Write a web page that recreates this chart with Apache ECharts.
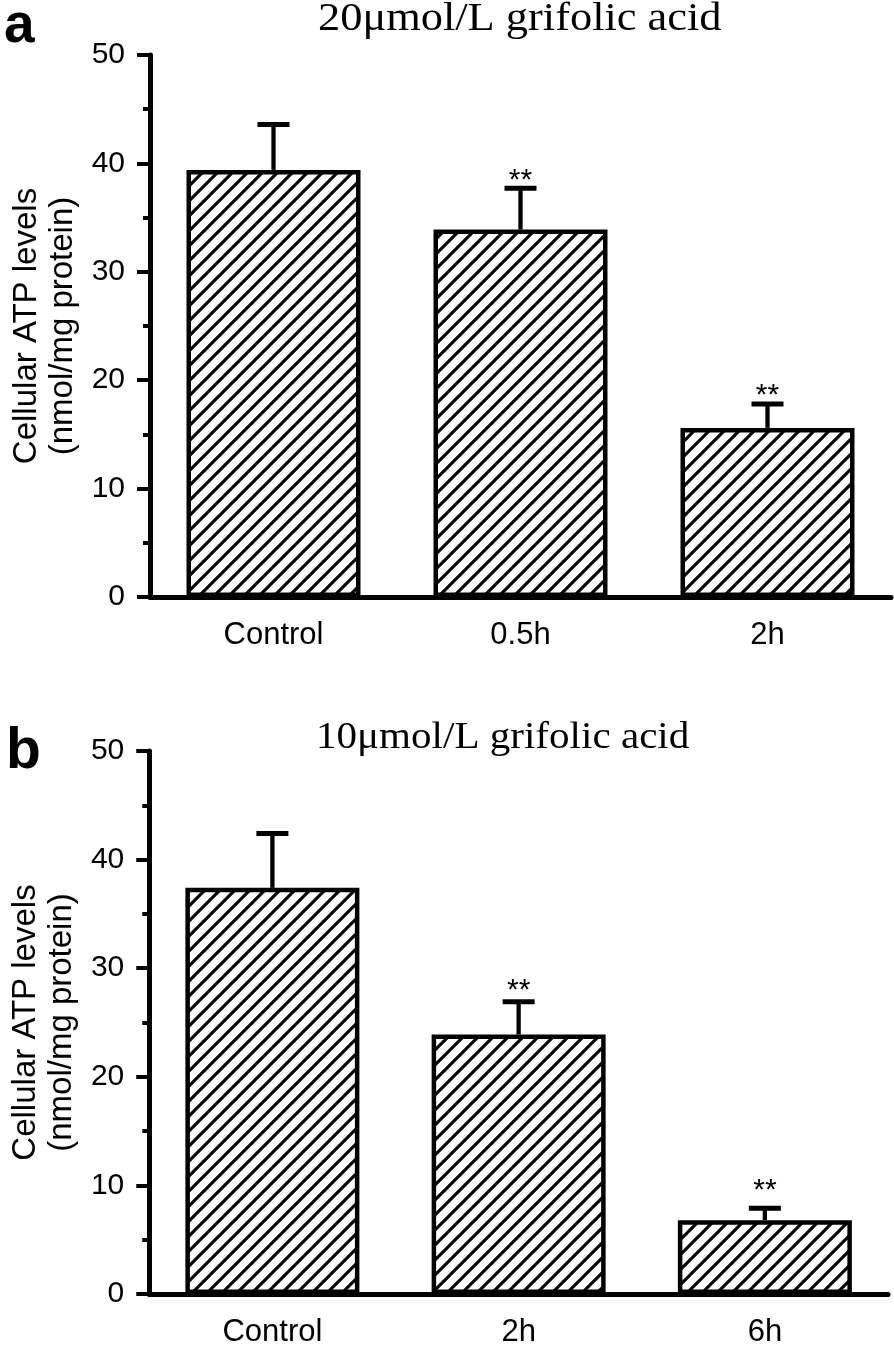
<!DOCTYPE html>
<html>
<head>
<meta charset="utf-8">
<script src="https://cdn.jsdelivr.net/npm/echarts@6/dist/echarts.min.js"></script>
<style>
html,body{margin:0;padding:0;background:#fff;}
#chart{width:894px;height:1353px;}
</style>
</head>
<body>
<div id="chart"></div>
<script>
// ---- data ----
const catsA = ['Control', '0.5h', '2h'];
const meanA = [39.4, 33.9, 15.6];
const errA  = [4.2, 3.8, 2.2];
const sigA  = ['', '**', '**'];

const catsB = ['Control', '2h', '6h'];
const meanB = [37.4, 23.9, 6.8];
const errB  = [5.0, 3.0, 1.1];
const sigB  = ['', '**', '**'];

const titleA = '20\u03bcmol/L grifolic acid';
const titleB = '10\u03bcmol/L grifolic acid';
const yName = 'Cellular ATP levels\n(nmol/mg protein)';
const yMin = 0, yMax = 50, yStep = 10;

// ---- style ----
const SANS = 'Liberation Sans';
const SERIF = 'Liberation Serif';
const starOffsetA = [8, 8, 8];
const starOffsetB = [8, 11, 17];

function hatch() {
  const s = 15;
  const c = document.createElement('canvas');
  c.width = s; c.height = s;
  const g = c.getContext('2d');
  g.fillStyle = '#fff';
  g.fillRect(0, 0, s, s);
  g.strokeStyle = '#000';
  g.lineWidth = 3.1;
  [0, s, 2 * s].forEach(k => {
    g.beginPath();
    g.moveTo(-3, k + 3);
    g.lineTo(k + 3, -3);
    g.stroke();
  });
  return c;
}
const pattern = { image: hatch(), repeat: 'repeat' };

function yAxisCfg(gi) {
  return {
    type: 'value', gridIndex: gi, min: yMin, max: yMax, interval: yStep,
    name: yName, nameLocation: 'middle', nameRotate: 90, nameGap: 69,
    nameTextStyle: { fontFamily: SANS, fontSize: 33, color: '#000', lineHeight: 36 },
    axisLine: { show: true, lineStyle: { color: '#000', width: 5 } },
    axisTick: { show: true, inside: false, length: 13, lineStyle: { color: '#000', width: 4 } },
    minorTick: { show: true, splitNumber: 2, length: 7, lineStyle: { color: '#000', width: 4 } },
    splitLine: { show: false },
    minorSplitLine: { show: false },
    axisLabel: { fontFamily: SANS, fontSize: 30, color: '#000', margin: 25 }
  };
}
function xAxisCfg(gi, cats) {
  return {
    type: 'category', gridIndex: gi, data: cats,
    axisLine: { show: true, lineStyle: { color: '#000', width: 5 } },
    axisTick: { show: false },
    axisLabel: { fontFamily: SANS, fontSize: 31, color: '#000', margin: 23 }
  };
}
function barSeries(gi, mean) {
  return {
    type: 'bar', xAxisIndex: gi, yAxisIndex: gi, data: mean, barWidth: 174,
    itemStyle: { color: pattern, borderColor: '#000', borderWidth: 4.5 },
    silent: true, animation: false
  };
}
function errSeries(gi, mean, err, sig, offs) {
  return {
    type: 'custom', xAxisIndex: gi, yAxisIndex: gi, z: 5, animation: false, silent: true,
    data: mean.map((m, i) => [i, m + err[i], m]),
    renderItem: function (params, api) {
      const i = params.dataIndex;
      const x = api.value(0), top = api.value(1), m = api.value(2);
      const p1 = api.coord([x, m]);
      const p2 = api.coord([x, top]);
      const ch = [
        { type: 'line', shape: { x1: p1[0], y1: p1[1], x2: p2[0], y2: p2[1] }, style: { stroke: '#000', lineWidth: 4.3 } },
        { type: 'line', shape: { x1: p2[0] - 16, y1: p2[1], x2: p2[0] + 16, y2: p2[1] }, style: { stroke: '#000', lineWidth: 5 } }
      ];
      if (sig[i]) {
        ch.push({ type: 'text', x: p2[0], y: p2[1] - offs[i],
          style: { text: sig[i], font: '30px "' + SANS + '"', fill: '#000',
                   align: 'center', verticalAlign: 'middle', textAlign: 'center', textVerticalAlign: 'middle' } });
      }
      return { type: 'group', children: ch };
    }
  };
}

const chart = echarts.init(document.getElementById('chart'), null, { renderer: 'canvas' });
chart.setOption({
  backgroundColor: '#fff',
  animation: false,
  grid: [
    { left: 150, right: 3, top: 55, height: 542 },
    { left: 147, right: 6, top: 751, height: 543 }
  ],
  xAxis: [xAxisCfg(0, catsA), xAxisCfg(1, catsB)],
  yAxis: [yAxisCfg(0), yAxisCfg(1)],
  series: [
    barSeries(0, meanA), errSeries(0, meanA, errA, sigA, starOffsetA),
    barSeries(1, meanB), errSeries(1, meanB, errB, sigB, starOffsetB)
  ],
  graphic: [
    { type: 'text', x: 318, y: 19, scaleX: 1.11, style: { text: titleA, font: '40px "' + SERIF + '"', fill: '#000', align: 'left', verticalAlign: 'middle' } },
    { type: 'text', x: 316, y: 738, scaleX: 1.11, style: { text: titleB, font: '37px "' + SERIF + '"', fill: '#000', align: 'left', verticalAlign: 'middle' } },
    { type: 'text', x: 4, y: 27, style: { text: 'a', font: 'bold 55px "' + SANS + '"', fill: '#000', align: 'left', verticalAlign: 'middle' } },
    { type: 'text', x: 6, y: 752, style: { text: 'b', font: 'bold 57px "' + SANS + '"', fill: '#000', align: 'left', verticalAlign: 'middle' } }
  ]
});
</script>
</body>
</html>
